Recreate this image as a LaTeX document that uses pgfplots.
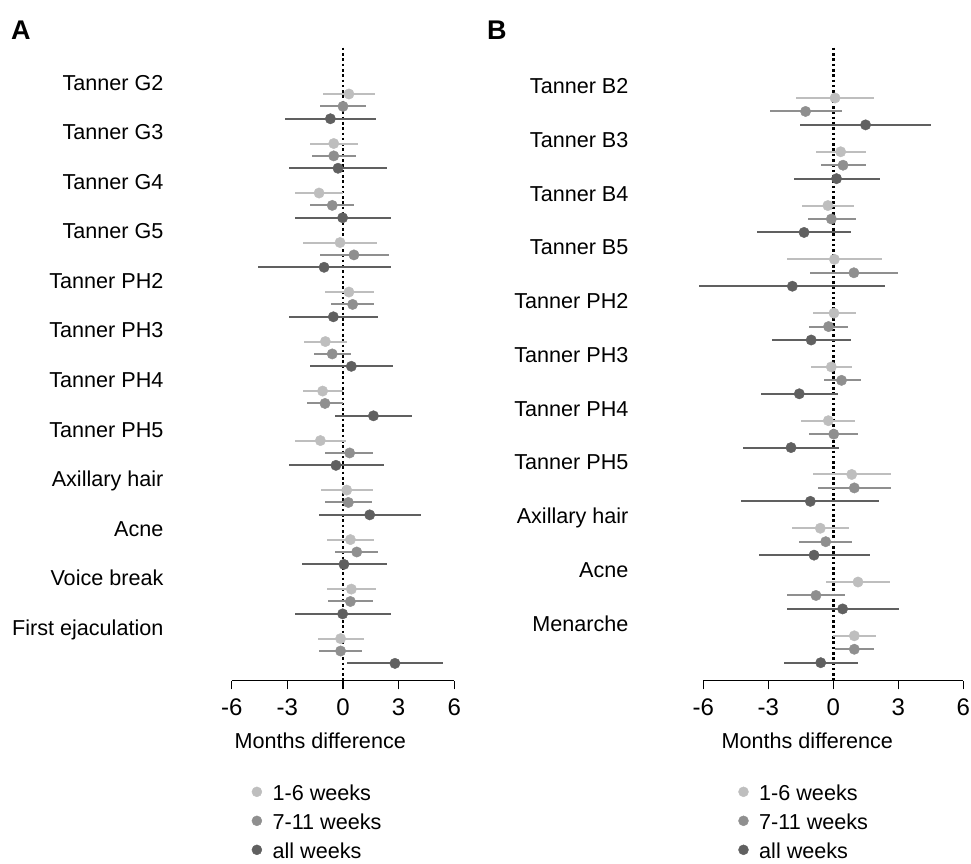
\documentclass[border=0pt]{standalone}
\usepackage{fontspec}
\setmainfont{Liberation Sans}
\usepackage{pgfplots}
\pgfplotsset{compat=1.18}
\definecolor{cL}{RGB}{190,190,190}
\definecolor{cM}{RGB}{143,143,143}
\definecolor{cD}{RGB}{96,96,96}
\newcommand{\fs}{\fontsize{21.6pt}{25pt}\selectfont}
\pgfplotsset{
  forest/.style={
    scale only axis, clip=false,
    xmin=-6, xmax=6, ymin=#1, ymax=3.74,
    axis x line*=bottom, axis y line*=left,
    x axis line style={-, line width=1.5pt},
    y axis line style={draw=none},
    xtick={-6,-3,0,3,6},
    xticklabels={-6,-3,0,3,6},
    tick align=outside, major tick length=8.7pt,
    xtick style={black, line width=1.5pt},
    ytick style={draw=none},
    yticklabel style={font=\fs},
    xticklabel style={font=\fontsize{24pt}{28pt}\selectfont, anchor=base, inner sep=0pt, yshift=-26.3pt},
    legend cell align=left,
  },
  ci/.style={forget plot, only marks, mark=*, mark size=5.2pt, color=#1,
    mark options={fill=#1, draw=#1, line width=0.4pt},
    error bars/x dir=both, error bars/x explicit, error bars/error mark=none,
    error bars/error bar style={line width=2pt, #1}},
  zero/.style={black, line width=2.4pt, dash pattern=on 2.6pt off 2.7pt, forget plot},
}
\begin{document}
\begin{tikzpicture}
\useasboundingbox (0pt,0pt) rectangle (971pt,-863pt);
\node[anchor=base west, inner sep=0pt, font=\fontsize{27pt}{30pt}\selectfont\bfseries] at (11pt,-39.3pt) {A};
\node[anchor=base west, inner sep=0pt, font=\fontsize{27pt}{30pt}\selectfont\bfseries] at (487pt,-39.3pt) {B};

% ---- panel A: boys
\begin{axis}[forest=-47.4,
  at={(231.7pt,-47.7pt)}, anchor=north west, width=222.6pt, height=633pt,
  ytick={0.91,-3.09,-7.09,-11.09,-15.09,-19.09,-23.09,-27.09,-31.09,-35.09,-39.09,-43.09},
  yticklabels={Tanner G2,Tanner G3,Tanner G4,Tanner G5,Tanner PH2,Tanner PH3,Tanner PH4,Tanner PH5,Axillary hair,Acne,Voice break,First ejaculation},
  yticklabel style={anchor=base east, inner sep=0pt, xshift=-59.4pt, yshift=-7.7pt},
  legend style={draw=none, fill=none, inner sep=0pt, outer sep=0pt, row sep=9pt, column sep=10.5pt,
    font=\fs, nodes={inner sep=0pt, text height=15.5pt, text depth=4.5pt},
    at={(rel axis cs:0.0898,-0.1651)}, anchor=north west},
]
\addplot[zero] coordinates {(0,3.74) (0,-47.4)};
\addplot[ci=cL] table[x=x, y=y, x error plus expr=\thisrow{hi}-\thisrow{x}, x error minus expr=\thisrow{x}-\thisrow{lo}] {
y x lo hi
0 0.32 -1.08 1.74
-4 -0.50 -1.78 0.81
-8 -1.29 -2.59 -0.02
-12 -0.16 -2.16 1.85
-16 0.32 -0.97 1.67
-20 -0.95 -2.10 0.22
-24 -1.10 -2.17 0.00
-28 -1.22 -2.61 0.16
-32 0.20 -1.20 1.62
-36 0.40 -0.88 1.67
-40 0.45 -0.86 1.80
-44 -0.13 -1.37 1.13
};
\addplot[ci=cM] table[x=x, y=y, x error plus expr=\thisrow{hi}-\thisrow{x}, x error minus expr=\thisrow{x}-\thisrow{lo}] {
y x lo hi
-1 0.00 -1.22 1.24
-5 -0.50 -1.67 0.70
-9 -0.58 -1.76 0.61
-13 0.59 -1.24 2.48
-17 0.52 -0.65 1.69
-21 -0.58 -1.56 0.45
-25 -0.97 -1.96 0.00
-29 0.36 -0.95 1.64
-33 0.29 -0.99 1.58
-37 0.74 -0.41 1.90
-41 0.40 -0.79 1.60
-45 -0.13 -1.29 1.04
};
\addplot[ci=cD] table[x=x, y=y, x error plus expr=\thisrow{hi}-\thisrow{x}, x error minus expr=\thisrow{x}-\thisrow{lo}] {
y x lo hi
-2 -0.68 -3.14 1.80
-6 -0.27 -2.91 2.35
-10 -0.02 -2.61 2.61
-14 -1.02 -4.58 2.57
-18 -0.52 -2.89 1.89
-22 0.45 -1.78 2.71
-26 1.64 -0.43 3.74
-30 -0.38 -2.93 2.21
-34 1.44 -1.29 4.19
-38 0.05 -2.21 2.37
-42 -0.02 -2.59 2.59
-46 2.80 0.22 5.39
};
\addlegendimage{legend image code/.code={\fill[cL] (5pt,3.4pt) circle (5pt);}}
\addlegendentry{1-6 weeks}
\addlegendimage{legend image code/.code={\fill[cM] (5pt,3.4pt) circle (5pt);}}
\addlegendentry{7-11 weeks}
\addlegendimage{legend image code/.code={\fill[cD] (5pt,3.4pt) circle (5pt);}}
\addlegendentry{all weeks}
\node[anchor=base, inner sep=0pt, font=\fs] at ([yshift=-67.6pt]axis cs:-1.23,-47.4) {Months difference};
\end{axis}

% ---- panel B: girls
\begin{axis}[forest=-43.34,
  at={(703.3pt,-47.7pt)}, anchor=north west, width=260pt, height=633pt,
  ytick={0.91,-3.09,-7.09,-11.09,-15.09,-19.09,-23.09,-27.09,-31.09,-35.09,-39.09},
  yticklabels={Tanner B2,Tanner B3,Tanner B4,Tanner B5,Tanner PH2,Tanner PH3,Tanner PH4,Tanner PH5,Axillary hair,Acne,Menarche},
  yticklabel style={anchor=base east, inner sep=0pt, xshift=-66pt, yshift=-7.7pt},
  legend style={draw=none, fill=none, inner sep=0pt, outer sep=0pt, row sep=9pt, column sep=10.5pt,
    font=\fs, nodes={inner sep=0pt, text height=15.5pt, text depth=4.5pt},
    at={(rel axis cs:0.1346,-0.1651)}, anchor=north west},
]
\addplot[zero] coordinates {(0,3.74) (0,-43.34)};
\addplot[ci=cL] table[x=x, y=y, x error plus expr=\thisrow{hi}-\thisrow{x}, x error minus expr=\thisrow{x}-\thisrow{lo}] {
y x lo hi
0 0.08 -1.71 1.89
-4 0.34 -0.78 1.49
-8 -0.25 -1.43 0.95
-12 0.05 -2.12 2.23
-16 0.03 -0.95 1.05
-20 -0.09 -1.02 0.85
-24 -0.23 -1.48 1.00
-28 0.85 -0.94 2.68
-32 -0.60 -1.89 0.72
-36 1.14 -0.32 2.63
-40 0.97 0.00 1.95
};
\addplot[ci=cM] table[x=x, y=y, x error plus expr=\thisrow{hi}-\thisrow{x}, x error minus expr=\thisrow{x}-\thisrow{lo}] {
y x lo hi
-1 -1.28 -2.94 0.38
-5 0.45 -0.58 1.51
-9 -0.09 -1.18 1.03
-13 0.95 -1.06 3.00
-17 -0.22 -1.11 0.66
-21 0.38 -0.43 1.26
-25 0.02 -1.11 1.14
-29 0.97 -0.69 2.65
-33 -0.35 -1.57 0.85
-37 -0.80 -2.12 0.52
-41 0.97 0.08 1.88
};
\addplot[ci=cD] table[x=x, y=y, x error plus expr=\thisrow{hi}-\thisrow{x}, x error minus expr=\thisrow{x}-\thisrow{lo}] {
y x lo hi
-2 1.49 -1.52 4.49
-6 0.15 -1.80 2.14
-10 -1.35 -3.52 0.82
-14 -1.89 -6.18 2.40
-18 -1.02 -2.82 0.80
-22 -1.57 -3.35 0.22
-26 -1.95 -4.15 0.26
-30 -1.06 -4.25 2.12
-34 -0.89 -3.42 1.68
-38 0.43 -2.14 3.05
-42 -0.58 -2.26 1.12
};
\addlegendimage{legend image code/.code={\fill[cL] (5pt,3.4pt) circle (5pt);}}
\addlegendentry{1-6 weeks}
\addlegendimage{legend image code/.code={\fill[cM] (5pt,3.4pt) circle (5pt);}}
\addlegendentry{7-11 weeks}
\addlegendimage{legend image code/.code={\fill[cD] (5pt,3.4pt) circle (5pt);}}
\addlegendentry{all weeks}
\node[anchor=base, inner sep=0pt, font=\fs] at ([yshift=-67.6pt]axis cs:-1.2,-43.34) {Months difference};
\end{axis}
\end{tikzpicture}
\end{document}
